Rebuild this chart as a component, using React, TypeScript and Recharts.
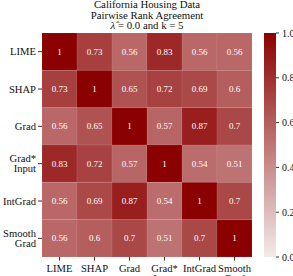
import React from "react"
import {
  ReferenceArea,
  Scatter,
  ScatterChart,
  XAxis,
  YAxis,
} from "recharts"

const methods = ["LIME", "SHAP", "Grad", "Grad*\nInput", "IntGrad", "Smooth\nGrad"]

const limeRow = [1, 0.73, 0.56, 0.83, 0.56, 0.56]
const shapRow = [0.73, 1, 0.65, 0.72, 0.69, 0.6]
const gradRow = [0.56, 0.65, 1, 0.57, 0.87, 0.7]
const gradInputRow = [0.83, 0.72, 0.57, 1, 0.54, 0.51]
const intGradRow = [0.56, 0.69, 0.87, 0.54, 1, 0.7]
const smoothGradRow = [0.56, 0.6, 0.7, 0.51, 0.7, 1]

const colorbarTicks = [0, 0.2, 0.4, 0.6, 0.8, 1]

const rows = [limeRow, shapRow, gradRow, gradInputRow, intGradRow, smoothGradRow]

const cells = rows.flatMap((row, r) => row.map((v, c) => ({ x: c, y: r, v })))
const barPoints = colorbarTicks.map((t) => ({ x: 0.5, y: t }))

const FONT = "Liberation Serif, Times New Roman, Times, serif"
const LIGHT = [243, 235, 235]
const DARK = [139, 0, 0]

const colorFor = (v: number) => {
  const mix = LIGHT.map((l, i) => Math.round(l + (DARK[i] - l) * v))
  return `rgb(${mix[0]},${mix[1]},${mix[2]})`
}

const XTick = ({ x, y, payload }: any) => {
  const lines = methods[payload.value].split("\n")
  return (
    <text x={x} y={y + 9} textAnchor="middle" style={{ fontFamily: FONT, fontSize: 10.6 }} fill="#111">
      {lines.map((l, i) => (
        <tspan key={i} x={x} dy={i === 0 ? 0 : 10.5}>
          {l}
        </tspan>
      ))}
    </text>
  )
}

const YTick = ({ x, y, payload }: any) => {
  const lines = methods[payload.value].split("\n")
  const start = y + 3.5 - ((lines.length - 1) * 10.5) / 2
  return (
    <text x={x} y={start} textAnchor="end" style={{ fontFamily: FONT, fontSize: 10.6 }} fill="#111">
      {lines.map((l, i) => (
        <tspan key={i} x={x} dy={i === 0 ? 0 : 10.5}>
          {l}
        </tspan>
      ))}
    </text>
  )
}

const BarTick = ({ x, y, payload }: any) => (
  <text x={x + 1} y={y + 3.5} textAnchor="start" style={{ fontFamily: FONT, fontSize: 10 }} fill="#111">
    {Number(payload.value).toFixed(1)}
  </text>
)

const CellText = ({ cx, cy, payload }: any) => (
  <text x={cx} y={cy + 3} textAnchor="middle" style={{ fontFamily: FONT, fontSize: 9 }} fill="#fff">
    {String(payload.v)}
  </text>
)

export default function App() {
  const idx = [0, 1, 2, 3, 4, 5]
  return (
    <div style={{ position: "absolute", left: 0, top: 0, width: 293, height: 276, background: "#fff", overflow: "hidden" }}>
      <svg width={0} height={0} style={{ position: "absolute" }}>
        <defs>
          <linearGradient id="cbar" x1="0" y1="1" x2="0" y2="0">
            <stop offset="0%" stopColor={colorFor(0)} />
            <stop offset="100%" stopColor={colorFor(1)} />
          </linearGradient>
        </defs>
      </svg>
      <div
        style={{
          position: "absolute",
          left: 47,
          width: 200,
          top: -0.8,
          textAlign: "center",
          fontFamily: FONT,
          fontSize: 10.8,
          lineHeight: "10.3px",
          color: "#111",
        }}
      >
        <div>California Housing Data</div>
        <div>Pairwise Rank Agreement</div>
        <div>
          <i>λ̂</i> = 0.0 and k = 5
        </div>
      </div>
      <div style={{ position: "absolute", left: 0, top: 0 }}>
        <ScatterChart width={293} height={276} margin={{ top: 33, right: 41, bottom: 0, left: 0 }}>
          <XAxis
            type="number"
            dataKey="x"
            domain={[-0.5, 5.5]}
            ticks={idx}
            interval={0}
            axisLine={false}
            tickSize={3.5}
            tickLine={{ stroke: "#333" }}
            height={19}
            tick={<XTick />}
          />
          <YAxis
            type="number"
            dataKey="y"
            domain={[-0.5, 5.5]}
            reversed
            ticks={idx}
            interval={0}
            axisLine={false}
            tickSize={4}
            tickLine={{ stroke: "#333" }}
            width={42}
            tick={<YTick />}
          />
          {cells.map((c) => (
            <ReferenceArea
              key={`${c.x}-${c.y}`}
              x1={c.x - 0.5}
              x2={c.x + 0.5}
              y1={c.y - 0.5}
              y2={c.y + 0.5}
              fill={colorFor(c.v)}
              fillOpacity={1}
              stroke="#ffffff"
              strokeOpacity={0.15}
              strokeWidth={0.5}
            />
          ))}
          <Scatter data={cells} isAnimationActive={false} shape={<CellText />} />
        </ScatterChart>
      </div>
      <div style={{ position: "absolute", left: 0, top: 0 }}>
        <ScatterChart width={293} height={276} margin={{ top: 33, right: 0, bottom: 19, left: 264 }}>
          <XAxis type="number" dataKey="x" hide domain={[0, 1]} />
          <YAxis
            type="number"
            dataKey="y"
            orientation="right"
            domain={[0, 1]}
            ticks={colorbarTicks}
            interval={0}
            axisLine={false}
            tickSize={3}
            tickLine={{ stroke: "#333" }}
            width={17}
            tick={<BarTick />}
          />
          <ReferenceArea x1={0} x2={1} y1={0} y2={1} fill="url(#cbar)" fillOpacity={1} />
          <Scatter data={barPoints} isAnimationActive={false} shape={() => <g />} />
        </ScatterChart>
      </div>
    </div>
  )
}
